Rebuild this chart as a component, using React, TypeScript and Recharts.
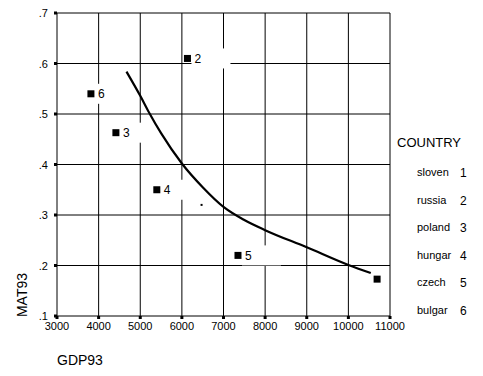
import { ScatterChart, Scatter, XAxis, YAxis, CartesianGrid } from 'recharts'

const countries = ['sloven', 'russia', 'poland', 'hungar', 'czech', 'bulgar']
const codes = [1, 2, 3, 4, 5, 6]
const gdp93 = [10690, 6134, 4415, 5398, 7348, 3815]
const mat93 = [0.173, 0.61, 0.463, 0.35, 0.22, 0.54]
const labelShown = [false, true, true, true, true, true]

// fitted curve
const curveX = [4669, 5000, 5211, 5500, 6000, 6500, 7000, 7500, 8000, 9000, 10000, 10538]
const curveY = [0.584, 0.536, 0.503, 0.462, 0.402, 0.355, 0.316, 0.29, 0.27, 0.236, 0.201, 0.185]

const strayX = [6473]
const strayY = [0.32]

const xTicks = [3000, 4000, 5000, 6000, 7000, 8000, 9000, 10000, 11000]
const yTicks = [0.1, 0.2, 0.3, 0.4, 0.5, 0.6, 0.7]

const points = gdp93.map((x, i) => ({ x, y: mat93[i], code: codes[i], shown: labelShown[i] }))
const curve = curveX.map((x, i) => ({ x, y: curveY[i] }))
const stray = strayX.map((x, i) => ({ x, y: strayY[i] }))

const font = '"Liberation Sans", Arial, sans-serif'

function PointMark(props: any) {
  const { cx, cy, payload } = props
  return (
    <g>
      {payload.shown && <rect x={cx + 4} y={cy - 10} width={39} height={20} fill="#fff" />}
      <rect x={cx - 3.5} y={cy - 3.5} width={7} height={7} fill="#000" />
      {payload.shown && (
        <text x={cx + 7} y={cy + 4.5} fontSize={12} fontFamily={font} fill="#000">
          {payload.code}
        </text>
      )}
    </g>
  )
}

function XTick(props: any) {
  const { x, y, payload } = props
  return (
    <g>
      <rect x={x - 1.5} y={y} width={3} height={3} fill="#000" />
      <text x={x} y={y + 14} textAnchor="middle" fontSize={11} fontFamily={font} fill="#000">
        {payload.value}
      </text>
    </g>
  )
}

function YTick(props: any) {
  const { x, y, payload } = props
  return (
    <g>
      <rect x={x - 3} y={y - 1.5} width={3} height={3} fill="#000" />
      <text x={x - 9} y={y + 4} textAnchor="end" fontSize={11} fontFamily={font} fill="#000">
        {payload.value.toFixed(1).replace(/^0/, '')}
      </text>
    </g>
  )
}

export default function App() {
  return (
    <div style={{ position: 'absolute', left: 0, top: 0, width: 483, height: 376, background: '#fff', fontFamily: font }}>
      <ScatterChart width={483} height={376} margin={{ top: 13, right: 93, bottom: 0, left: 0 }}>
        <CartesianGrid stroke="#000" strokeWidth={1} horizontalValues={yTicks} verticalValues={xTicks} />
        <XAxis
          type="number"
          dataKey="x"
          domain={[3000, 11000]}
          ticks={xTicks}
          height={60}
          tickSize={0}
          tickMargin={0}
          axisLine={false}
          tickLine={false}
          tick={<XTick />}
          interval={0}
        />
        <YAxis
          type="number"
          dataKey="y"
          domain={[0.1, 0.7]}
          ticks={yTicks}
          width={57}
          tickSize={0}
          tickMargin={0}
          axisLine={false}
          tickLine={false}
          tick={<YTick />}
          interval={0}
        />
        <Scatter data={points} shape={(p: any) => <PointMark {...p} />} isAnimationActive={false} />
        <Scatter
          data={curve}
          line={{ stroke: '#000', strokeWidth: 2.2 }}
          lineJointType="monotoneX"
          shape={() => <g />}
          isAnimationActive={false}
        />
        <Scatter
          data={stray}
          shape={(p: any) => <rect x={p.cx - 1} y={p.cy - 1} width={2} height={2} fill="#000" />}
          isAnimationActive={false}
        />
      </ScatterChart>

      <div style={{ position: 'absolute', left: 22, top: 295, transform: 'translate(-50%, -50%) rotate(-90deg)', fontSize: 14, whiteSpace: 'nowrap' }}>
        MAT93
      </div>
      <div style={{ position: 'absolute', left: 57, top: 352, fontSize: 14, lineHeight: '16px' }}>GDP93</div>

      <div style={{ position: 'absolute', left: 397, top: 135, fontSize: 13, lineHeight: '16px' }}>COUNTRY</div>
      {countries.map((c, i) => (
        <div key={c} style={{ position: 'absolute', left: 417, top: 165 + i * 27.6, width: 60, height: 14, lineHeight: '14px' }}>
          <span style={{ position: 'absolute', left: 0, fontSize: 11 }}>{c}</span>
          <span style={{ position: 'absolute', left: 43, top: 1, fontSize: 12 }}>{codes[i]}</span>
        </div>
      ))}
    </div>
  )
}
